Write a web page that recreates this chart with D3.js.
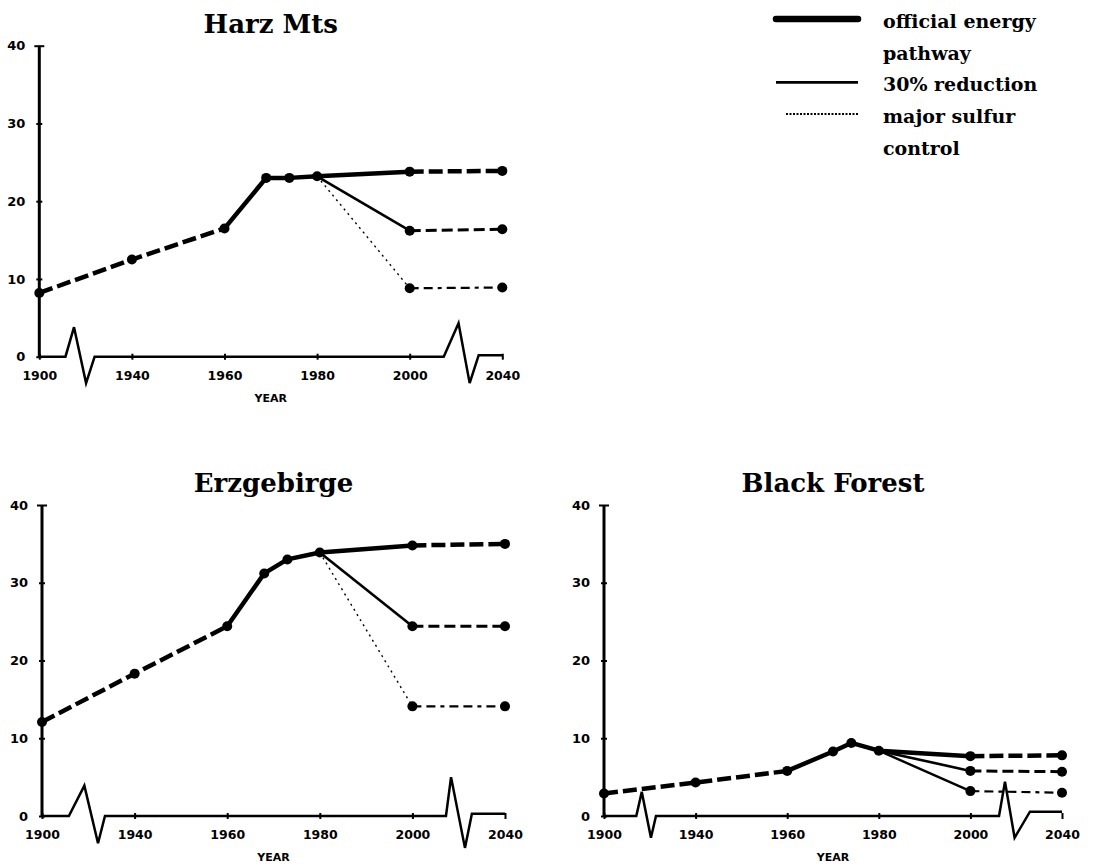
<!DOCTYPE html>
<html>
<head>
<meta charset="utf-8">
<script src="https://cdn.jsdelivr.net/npm/d3@7"></script>
<style>
  html, body { margin: 0; padding: 0; background: #fff; }
  svg { display: block; }
</style>
</head>
<body>
<svg id="chart" width="1098" height="866"></svg>
<script>
// ---- data: sulfur deposition by region, historical and projected ----
const tickYears = [1900, 1940, 1960, 1980, 2000, 2040];
const tickLabels = ["1900", "1940", "1960", "1980", "2000", "2040"];
const yTicks = [0, 10, 20, 30, 40];
const scenarioYears = [1980, 2000, 2040];

const harzYears = [1900, 1940, 1960, 1969, 1974, 1980, 2000, 2040];
const harzOfficial = [8.2, 12.5, 16.5, 23.0, 23.0, 23.2, 23.8, 23.9];
const harzReduction = [23.2, 16.2, 16.4];
const harzMajor = [23.2, 8.8, 8.9];

const erzYears = [1900, 1940, 1960, 1968, 1973, 1980, 2000, 2040];
const erzOfficial = [12.1, 18.3, 24.4, 31.2, 33.0, 33.9, 34.8, 35.0];
const erzReduction = [33.9, 24.4, 24.4];
const erzMajor = [33.9, 14.1, 14.1];

const bfYears = [1900, 1940, 1960, 1970, 1974, 1980, 2000, 2040];
const bfOfficial = [2.9, 4.3, 5.8, 8.3, 9.4, 8.4, 7.7, 7.8];
const bfReduction = [8.4, 5.8, 5.7];
const bfMajor = [8.4, 3.2, 3.0];

// axis breaks on the time axis: zigzag vertices (year, value)
const harzBreaks = [
  { years: [1911.3, 1915.0, 1920.2, 1923.9], vals: [0, 3.8, -3.4, 0] },
  { years: [2014.7, 2021.1, 2025.9, 2029.8], vals: [0, 4.3, -3.4, 0.2] }
];
const erzBreaks = [
  { years: [1911.6, 1918.3, 1924.2, 1927.2], vals: [0, 3.9, -3.5, 0] },
  { years: [2014.5, 2016.7, 2022.7, 2025.7], vals: [0, 5.0, -4.1, 0.3] }
];
const bfBreaks = [
  { years: [1914.1, 1916.5, 1920.5, 1922.7], vals: [0, 3.1, -2.8, 0] },
  { years: [2012.5, 2015.1, 2019.3, 2026.0], vals: [0, 4.4, -2.8, 0.55] }
];

const legendItems = [
  { lines: ["official energy", "pathway"], key: "official" },
  { lines: ["30% reduction"], key: "reduction" },
  { lines: ["major sulfur", "control"], key: "major" }
];

// ---- layout ----
const svg = d3.select("#chart");
const PANEL_H = 311;

const styles = {
  officialSolid: { w: 4.5, dash: null },
  officialDash: { w: 4.5, dash: "14,5" },
  reductionSolid: { w: 2.6, dash: null },
  reductionDash: { w: 3, dash: "11,5" },
  majorSolid: { w: 1.4, dash: "2,4" },
  majorHeavy: { w: 2.4, dash: null },
  majorDash: { w: 2.2, dash: "9,5,9,5,4,5" }
};

const panels = [
  { title: "Harz Mts", years: harzYears, official: harzOfficial, reduction: harzReduction,
    major: harzMajor, breaks: harzBreaks, left: 39.3, top: 45.7, width: 463,
    majorStyle: styles.majorSolid },
  { title: "Erzgebirge", years: erzYears, official: erzOfficial, reduction: erzReduction,
    major: erzMajor, breaks: erzBreaks, left: 42, top: 505, width: 463,
    majorStyle: styles.majorSolid },
  { title: "Black Forest", years: bfYears, official: bfOfficial, reduction: bfReduction,
    major: bfMajor, breaks: bfBreaks, left: 604, top: 505, width: 458,
    majorStyle: styles.majorHeavy }
];

function drawPanel(p) {
  const g = svg.append("g").attr("transform", `translate(${p.left},${p.top})`);
  const step = p.width / (tickYears.length - 1);
  const x = d3.scaleLinear().domain(tickYears).range(tickYears.map((d, i) => i * step));
  const y = d3.scaleLinear().domain([0, 40]).range([PANEL_H, 0]);

  // title
  g.append("text")
    .attr("x", p.width / 2).attr("y", -13)
    .attr("text-anchor", "middle")
    .style("font-family", "'DejaVu Serif', serif")
    .style("font-weight", "bold")
    .style("font-size", "26px")
    .text(p.title);

  // y axis
  const ya = g.append("g")
    .call(d3.axisLeft(y).tickValues(yTicks).tickSizeInner(3).tickSizeOuter(0).tickPadding(11));
  ya.select(".domain").remove();
  ya.selectAll(".tick line").attr("x1", d => d === 40 ? 5 : 3).attr("x2", d => d === 40 ? -5 : -3)
    .attr("stroke", "#000").attr("stroke-width", 2);
  ya.selectAll(".tick text")
    .style("font-family", "'DejaVu Sans', sans-serif")
    .style("font-weight", "bold").style("font-size", "13px").attr("fill", "#000");
  g.append("line")
    .attr("x1", 0).attr("x2", 0).attr("y1", y(0)).attr("y2", y(40))
    .attr("stroke", "#000").attr("stroke-width", 3);

  // x axis with breaks
  const xa = g.append("g").attr("transform", `translate(0,${PANEL_H})`)
    .call(d3.axisBottom(x).tickValues(tickYears).tickFormat((d, i) => tickLabels[i])
      .tickSizeInner(3).tickSizeOuter(0).tickPadding(11));
  xa.select(".domain").remove();
  xa.selectAll(".tick line").attr("y1", -3).attr("stroke", "#000").attr("stroke-width", 2);
  xa.selectAll(".tick text")
    .style("font-family", "'DejaVu Sans', sans-serif")
    .style("font-weight", "bold").style("font-size", "12.5px").attr("fill", "#000");

  const axisPts = [[1900, 0]];
  p.breaks.forEach(b => b.years.forEach((yr, i) => axisPts.push([yr, b.vals[i]])));
  axisPts.push([2040, p.breaks[1].vals[3]]);
  g.append("path")
    .attr("d", d3.line().x(d => x(d[0])).y(d => y(d[1]))(axisPts))
    .attr("fill", "none").attr("stroke", "#000").attr("stroke-width", 2.5)
    .attr("stroke-linejoin", "miter");

  g.append("text")
    .attr("x", p.width / 2).attr("y", PANEL_H + 45)
    .attr("text-anchor", "middle")
    .style("font-family", "'DejaVu Sans', sans-serif")
    .style("font-weight", "bold").style("font-size", "11px")
    .text("YEAR");

  // series
  const line = d3.line().x(d => x(d[0])).y(d => y(d[1]));
  function seg(pts, st) {
    g.append("path")
      .attr("d", line(pts))
      .attr("fill", "none").attr("stroke", "#000")
      .attr("stroke-width", st.w)
      .attr("stroke-dasharray", st.dash)
      .attr("stroke-linejoin", "round");
  }
  const off = p.years.map((yr, i) => [yr, p.official[i]]);
  const red = scenarioYears.map((yr, i) => [yr, p.reduction[i]]);
  const maj = scenarioYears.map((yr, i) => [yr, p.major[i]]);

  seg(maj.slice(0, 2), p.majorStyle);
  seg(maj.slice(1), styles.majorDash);
  seg(red.slice(0, 2), styles.reductionSolid);
  seg(red.slice(1), styles.reductionDash);
  seg(off.slice(0, 3), styles.officialDash);
  seg(off.slice(2, 7), styles.officialSolid);
  seg(off.slice(6), styles.officialDash);

  const markers = off.concat(red.slice(1), maj.slice(1));
  g.selectAll("circle.pt").data(markers).enter().append("circle")
    .attr("class", "pt")
    .attr("cx", d => x(d[0])).attr("cy", d => y(d[1]))
    .attr("r", 5).attr("fill", "#000");
}

panels.forEach(drawPanel);

// legend
const lg = svg.append("g").attr("transform", "translate(776,0)");
const legendStyle = {
  official: { w: 6.5, dash: null, x1: 0, cap: "round" },
  reduction: { w: 2.8, dash: null, x1: 0, cap: "butt" },
  major: { w: 2, dash: "2,1.5", x1: 10, cap: "butt" }
};
let row = 0;
legendItems.forEach(item => {
  const base = 28 + row * 31.7;
  const st = legendStyle[item.key];
  lg.append("line")
    .attr("x1", st.x1).attr("x2", 82)
    .attr("y1", base - 9).attr("y2", base - 9)
    .attr("stroke", "#000").attr("stroke-width", st.w)
    .attr("stroke-dasharray", st.dash).attr("stroke-linecap", st.cap);
  item.lines.forEach((t, i) => {
    lg.append("text")
      .attr("x", 107).attr("y", base + i * 31.7)
      .style("font-family", "'DejaVu Serif', serif")
      .style("font-weight", "bold").style("font-size", "19px")
      .text(t);
  });
  row += item.lines.length;
});
</script>
</body>
</html>
